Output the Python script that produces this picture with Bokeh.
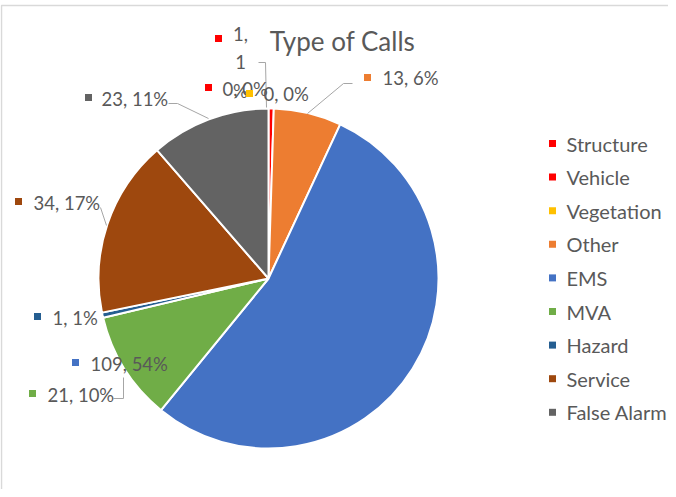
import numpy as np
import pandas as pd
from bokeh.plotting import figure
from bokeh.models import ColumnDataSource, Range1d
from bokeh.embed import file_html
from bokeh.resources import INLINE
from bokeh.core.properties import value

# ---------------- data ----------------
categories = ["Structure", "Vehicle", "Vegetation", "Other", "EMS", "MVA",
              "Hazard", "Service", "False Alarm"]
counts = [1, 0, 0, 13, 109, 21, 1, 34, 23]
pct_labels = ["1%", "0%", "0%", "6%", "54%", "10%", "1%", "17%", "11%"]
title_text = "Type of Calls"

# ---------------- style ----------------
colors = ["#FF0000", "#FF0000", "#FFC000", "#ED7D31", "#4472C4", "#70AD47",
          "#255E91", "#9E480E", "#636363"]
FONT = "Lato"
TXT = "#595959"
W, H = 668, 489


def px(x):
    return x


def py(y):
    return H - y


# pie geometry (page pixels)
CX, CY, R = 268, 278, 170

df = pd.DataFrame({"cat": categories, "count": counts, "color": colors,
                   "pct": pct_labels})
total = df["count"].sum()
frac = df["count"] / total
cum = frac.cumsum()
df["end"] = np.pi / 2 - 2 * np.pi * cum
df["start"] = np.pi / 2 - 2 * np.pi * (cum - frac)
df["label"] = [f"{c}, {p}" for c, p in zip(df["count"], df["pct"])]

p = figure(width=W, height=H, output_backend="svg", toolbar_location=None,
           x_range=Range1d(0, W), y_range=Range1d(0, H), min_border=0)
p.axis.visible = False
p.grid.visible = False
p.outline_line_color = None

# chart-area border (top and left edges visible in the crop)
p.line(x=[px(1), px(1), px(W)], y=[py(H), py(5), py(5)],
       line_color="#D9D9D9", line_width=1.5)

nz = ColumnDataSource(df[df["count"] > 0])
p.wedge(x=px(CX), y=py(CY), radius=R, start_angle="start", end_angle="end",
        direction="clock", fill_color="color", line_color="white",
        line_width=2, source=nz)

# title
p.text(x=[px(342)], y=[py(40)], text=[title_text], text_align="center",
       text_baseline="middle", text_color=TXT, text_font=value(FONT),
       text_font_size="26px")

# data labels (layout positions, page px)
label_text_pos = [(240, 62, "center"), (222, 88, "left"), (263, 93, "left"),
                  (382, 77, "left"), (90, 363, "left"), (47, 394, "left"),
                  (52, 317, "left"), (33, 202, "left"), (101, 98, "left")]
label_marker_pos = [(218, 38), (208, 87), (249, 93), (367, 77), (75, 362),
                    (32, 393), (37, 316), (18, 201), (88, 97)]

# leader lines
leaders_x = [[258, 265, 266], [352, 343, 307], [168, 177, 208],
             [100, 106], [113, 123, 123]]
leaders_y = [[62, 62, 107], [83, 83, 113], [103, 103, 118],
             [207, 225], [398, 398, 377]]
p.multi_line(xs=[[px(v) for v in xs] for xs in leaders_x],
             ys=[[py(v) for v in ys] for ys in leaders_y],
             line_color="#A6A6A6", line_width=1)

texts = list(df["label"])
texts[0] = f"{df['count'][0]},\n{df['count'][0]}\n%"
for i, (t, (tx, ty, al)) in enumerate(zip(texts, label_text_pos)):
    p.text(x=[px(tx)], y=[py(ty)], text=[t], text_align=al,
           text_baseline="middle", text_color=TXT, text_font=value(FONT),
           text_font_size="18.5px", text_line_height=1.3)
p.scatter(x=[px(m[0]) for m in label_marker_pos],
          y=[py(m[1]) for m in label_marker_pos],
          marker="square", size=7, fill_color=colors, line_color=None)

# legend
leg_y = [143 + i * 33.6 for i in range(len(categories))]
p.scatter(x=[px(552)] * len(categories), y=[py(v) for v in leg_y],
          marker="square", size=7, fill_color=colors, line_color=None)
p.text(x=[px(566)] * len(categories), y=[py(v) for v in leg_y],
       text=categories, text_align="left", text_baseline="middle",
       text_color=TXT, text_font=value(FONT), text_font_size="20px")

open("out.html", "w").write(file_html(p, INLINE))
